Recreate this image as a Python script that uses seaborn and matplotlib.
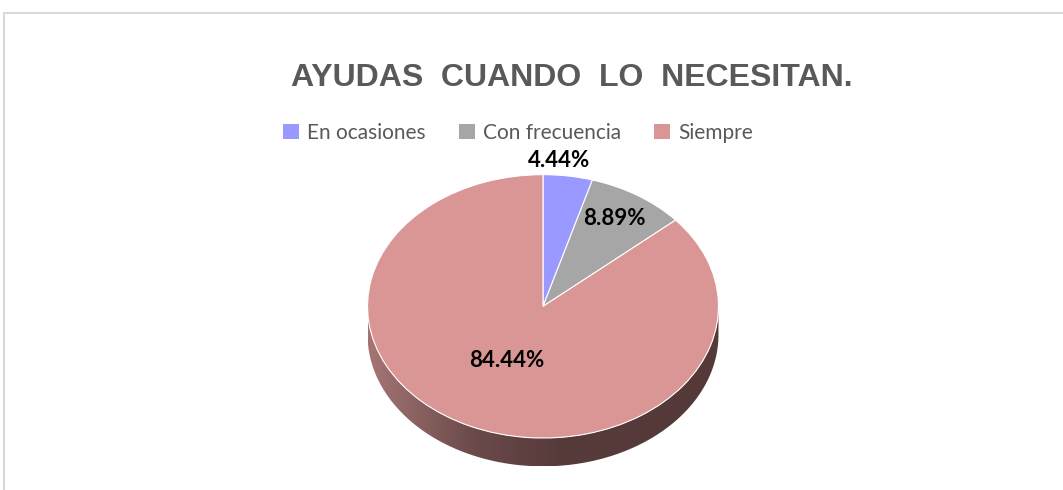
import numpy as np
import matplotlib
matplotlib.use('Agg')
import matplotlib.pyplot as plt
import seaborn as sns
from matplotlib.colors import LinearSegmentedColormap
from matplotlib.patches import Polygon, Rectangle

categories = ['En ocasiones', 'Con frecuencia', 'Siempre']
percentages = [4.44, 8.89, 84.44]
slice_colors = ['#9999ff', '#a6a6a6', '#da9694']
label_radius = [1.12, 0.79, 0.45]
label_shift = [-0.07, -0.02, -0.02]  # small horizontal nudges, axes units

sns.set_theme(style='white')
plt.rcParams['font.family'] = ['Lato', 'DejaVu Sans']

W, H = 1063, 490
fig = plt.figure(figsize=(W / 100, H / 100), dpi=100)

# light grey chart frame
fig.patches.append(Rectangle((4 / W, -0.1), 1.2, (490 - 13) / H + 0.1, transform=fig.transFigure,
                             fill=False, edgecolor='#d9d9d9', linewidth=1.5))

# pie axes (ellipse top face + side depth)
depth = 0.215
px_left, px_right, px_top, px_bottom = 367, 719, 174, 467
ax = fig.add_axes([px_left / W, (H - px_bottom) / H, (px_right - px_left) / W, (px_bottom - px_top) / H])

# side of the 3d pie with a dark gradient
t = np.linspace(np.pi, 2 * np.pi, 200)
side = np.concatenate([np.c_[np.cos(t), np.sin(t)], np.c_[np.cos(t[::-1]), np.sin(t[::-1]) - depth]])
side_cmap = LinearSegmentedColormap.from_list('side', [(0, '#a57575'), (0.3, '#6b4a4a'), (0.55, '#573a3a'), (1, '#553838')])
grad = np.linspace(0, 1, 256).reshape(1, -1)
im = ax.imshow(grad, cmap=side_cmap, extent=(-1, 1, -1 - depth, 0), aspect='auto', zorder=1)
poly = Polygon(side, closed=True, facecolor='none', edgecolor='none')
ax.add_patch(poly)
im.set_clip_path(poly)

wedges, _ = ax.pie(percentages, colors=slice_colors, startangle=90, counterclock=False,
                   wedgeprops=dict(edgecolor='white', linewidth=0.8, zorder=2))
for w in wedges:
    w.set_zorder(2)

for w, pct, r, dx in zip(wedges, percentages, label_radius, label_shift):
    mid = np.deg2rad((w.theta1 + w.theta2) / 2)
    ax.text(r * np.cos(mid) + dx, r * np.sin(mid), f'{pct:.2f}%', ha='center', va='center',
            fontsize=16, fontweight='bold', color='black', zorder=5)

ax.set_aspect('auto')
ax.set_xlim(-1.003, 1.003)
ax.set_ylim(-1 - depth - 0.005, 1.005)
ax.axis('off')

# title
fig.text(572 / W, 1 - 78 / H, 'AYUDAS  CUANDO  LO  NECESITAN.', ha='center', va='center',
         fontsize=23, fontweight='bold', color='#595959', family=['Liberation Sans', 'DejaVu Sans'])

# legend
handles = [Rectangle((0, 0), 1, 1, facecolor=c, edgecolor='none') for c in slice_colors]
fig.legend(handles, categories, loc='center', bbox_to_anchor=(518 / W, 1 - 133 / H), ncol=3,
           frameon=False, fontsize=15, handlelength=0.75, handleheight=0.75, handletextpad=0.4,
           columnspacing=1.6, labelcolor='#595959')

fig.savefig('out.png', dpi=100)
